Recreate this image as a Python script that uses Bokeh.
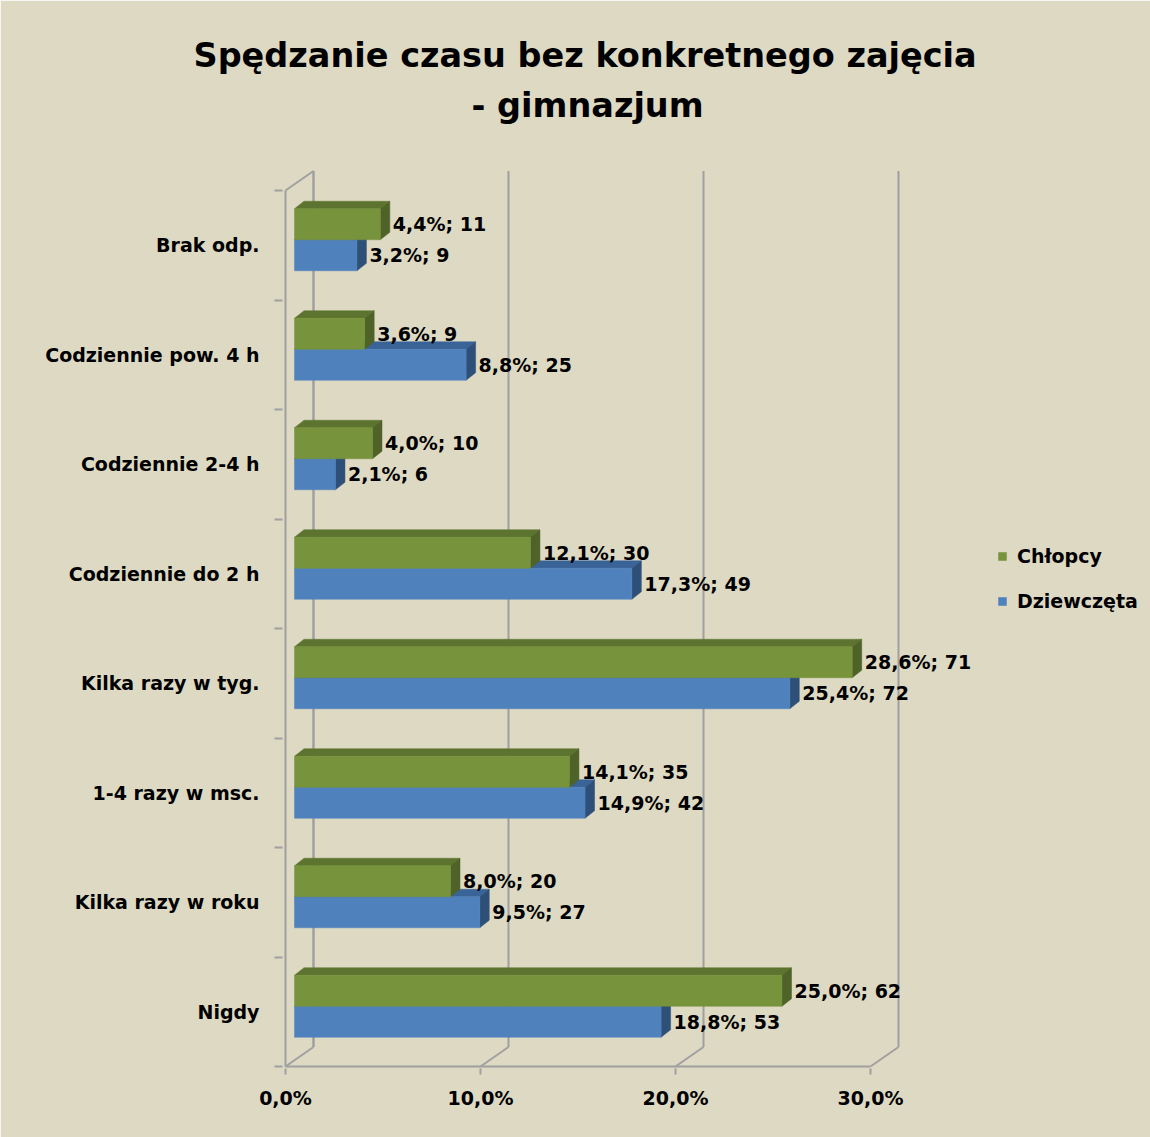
from bokeh.plotting import figure
from bokeh.models import (Range1d, LinearAxis, FixedTicker, Title, Legend,
                          LegendItem)
from bokeh.core.properties import value
from bokeh.embed import file_html
from bokeh.resources import INLINE

# ---------------- data (top to bottom as in the chart) ----------------
categories = ["Brak odp.", "Codziennie pow. 4 h", "Codziennie 2-4 h",
              "Codziennie do 2 h", "Kilka razy w tyg.", "1-4 razy w msc.",
              "Kilka razy w roku", "Nigdy"]
chlopcy_pct = [4.4, 3.6, 4.0, 12.1, 28.6, 14.1, 8.0, 25.0]
chlopcy_n = [11, 9, 10, 30, 71, 35, 20, 62]
dziewczeta_pct = [3.2, 8.8, 2.1, 17.3, 25.4, 14.9, 9.5, 18.8]
dziewczeta_n = [9, 25, 6, 49, 72, 42, 27, 53]
x_ticks = [0, 10, 20, 30]
x_tick_labels = ["0,0%", "10,0%", "20,0%", "30,0%"]
series_names = ["Chłopcy", "Dziewczęta"]
title_lines = ["Spędzanie czasu bez konkretnego zajęcia", "- gimnazjum"]

# ---------------- styling / geometry ----------------
BG = "#DDD9C3"
GRID = "#A0A0A0"
G_FRONT, G_TOP, G_SIDE = "#77933C", "#5C742F", "#4F6228"
B_FRONT, B_TOP, B_SIDE = "#4F81BD", "#3A6498", "#2E5078"
FONT = "DejaVu Sans"

W, H = 1150, 1137
PX_X, PX_Y = 19.5, 109.5          # pixels per % / per category
LEFT_BORDER, BOTTOM_BORDER, TOP_BORDER = 282, 69, 150
x_start = -3 / PX_X
x_end = x_start + (W - LEFT_BORDER) / PX_X
y_start = -2 / PX_Y
y_end = y_start + (H - BOTTOM_BORDER - TOP_BORDER) / PX_Y

X0 = 9 / PX_X            # bar front start (depth shift)
BAR_H = 31 / PX_Y
MID = 5.5 / PX_Y
DX, DY = 9.5 / PX_X, 7.5 / PX_Y          # bar depth
WX, WY = 28 / PX_X, 19.5 / PX_Y          # wall depth
N = len(categories)

p = figure(width=W, height=H, x_range=Range1d(x_start, x_end),
           y_range=Range1d(y_start, y_end), output_backend="svg",
           toolbar_location=None, title=None,
           min_border_left=LEFT_BORDER, min_border_right=0,
           min_border_top=TOP_BORDER, min_border_bottom=BOTTOM_BORDER,
           x_axis_type=None, y_axis_type=None)
p.background_fill_color = BG
p.border_fill_color = BG
p.outline_line_color = BG
p.outline_line_width = 2
p.xgrid.visible = False
p.ygrid.visible = False

# ---------------- walls / floor ----------------
xmax = x_ticks[-1]
seg_x0 = [g + WX for g in x_ticks] + [g for g in x_ticks] + [0, 0, 0, WX]
seg_y0 = [WY] * len(x_ticks) + [0] * len(x_ticks) + [0, 0, N, WY]
seg_x1 = [g + WX for g in x_ticks] + [g + WX for g in x_ticks] + [xmax, 0, WX, WX]
seg_y1 = [N + WY] * len(x_ticks) + [WY] * len(x_ticks) + [0, N, N + WY, N + WY]
p.segment(x0=seg_x0, y0=seg_y0, x1=seg_x1, y1=seg_y1,
          line_color=GRID, line_width=2)

# ---------------- bars ----------------
def faces(vals, lower):
    fl, fr, fb, ft = [], [], [], []
    txs, tys, sxs, sys_ = [], [], [], []
    for i, v in enumerate(vals):
        k = N - 1 - i
        c = k + 0.5 + MID
        b = c - BAR_H if lower else c
        t = c if lower else c + BAR_H
        l, r = X0, X0 + v
        fl.append(l); fr.append(r); fb.append(b); ft.append(t)
        txs.append([l, r, r + DX, l + DX]); tys.append([t, t, t + DY, t + DY])
        sxs.append([r, r + DX, r + DX, r]); sys_.append([b, b + DY, t + DY, t])
    return fl, fr, fb, ft, txs, tys, sxs, sys_

renderers = {}
for name, vals, lower, cf, ct, cs in [
        ("b", dziewczeta_pct, True, B_FRONT, B_TOP, B_SIDE),
        ("g", chlopcy_pct, False, G_FRONT, G_TOP, G_SIDE)]:
    fl, fr, fb, ft, txs, tys, sxs, sys_ = faces(vals, lower)
    p.patches(xs=txs, ys=tys, fill_color=ct, line_color=ct, line_width=0.5)
    p.patches(xs=sxs, ys=sys_, fill_color=cs, line_color=cs, line_width=0.5)
    renderers[name] = p.quad(left=fl, right=fr, bottom=fb, top=ft,
                             fill_color=cf, line_color=cf, line_width=0.5)

# ---------------- data labels ----------------
def fmt(v, n):
    return f"{v:.1f}".replace(".", ",") + f"%; {n}"

lx, ly, lt = [], [], []
for i in range(N):
    k = N - 1 - i
    c = k + 0.5 + MID
    lx.append(X0 + chlopcy_pct[i] + DX + 3 / PX_X); ly.append(c + BAR_H / 2)
    lt.append(fmt(chlopcy_pct[i], chlopcy_n[i]))
    lx.append(X0 + dziewczeta_pct[i] + DX + 3 / PX_X); ly.append(c - BAR_H / 2)
    lt.append(fmt(dziewczeta_pct[i], dziewczeta_n[i]))
p.text(x=lx, y=ly, text=lt, text_font=value(FONT), text_font_style="bold",
       text_font_size="19px", text_baseline="middle", text_align="left",
       text_color="black")

# ---------------- axes ----------------
xaxis = LinearAxis(ticker=FixedTicker(ticks=x_ticks),
                   major_label_overrides=dict(zip(x_ticks, x_tick_labels)))
xaxis.axis_line_color = None
xaxis.major_tick_line_color = GRID
xaxis.major_tick_line_width = 2
xaxis.major_tick_in = 0
xaxis.major_tick_out = 6
xaxis.minor_tick_line_color = None
xaxis.major_label_standoff = 12
xaxis.major_label_text_font = FONT
xaxis.major_label_text_font_style = "bold"
xaxis.major_label_text_font_size = "19px"
xaxis.major_label_text_color = "black"
p.add_layout(xaxis, "below")

y_centers = [N - 1 - i + 0.5 for i in range(N)]
yaxis = LinearAxis(ticker=FixedTicker(ticks=y_centers,
                                      minor_ticks=list(range(N + 1))),
                   major_label_overrides=dict(zip(y_centers, categories)))
yaxis.axis_line_color = None
yaxis.major_tick_line_color = None
yaxis.major_tick_in = 0
yaxis.major_tick_out = 0
yaxis.minor_tick_line_color = GRID
yaxis.minor_tick_line_width = 2
yaxis.minor_tick_in = 0
yaxis.minor_tick_out = 8
yaxis.major_label_standoff = 15
yaxis.major_label_text_font = FONT
yaxis.major_label_text_font_style = "bold"
yaxis.major_label_text_font_size = "19px"
yaxis.major_label_text_color = "black"
p.add_layout(yaxis, "left")

# ---------------- title (two lines) ----------------
p.add_layout(Title(text=title_lines[1], align="left", offset=189,
                   text_font=FONT, text_font_style="bold",
                   text_font_size="33.5px", text_color="black",
                   standoff=52), "above")
p.add_layout(Title(text=title_lines[0], align="left", offset=-89,
                   text_font=FONT, text_font_style="bold",
                   text_font_size="33.5px", text_color="black",
                   standoff=-34), "above")

# ---------------- legend ----------------
legend = Legend(items=[LegendItem(label=series_names[0], renderers=[renderers["g"]]),
                       LegendItem(label=series_names[1], renderers=[renderers["b"]])],
                location=(715, 456), orientation="vertical",
                background_fill_alpha=0, border_line_color=None,
                padding=0, margin=0, spacing=23,
                glyph_width=10, glyph_height=10, label_height=20,
                label_standoff=10, label_text_font=FONT,
                label_text_font_style="bold", label_text_font_size="19px",
                label_text_color="black", label_text_baseline="middle")
p.add_layout(legend)

open("out.html", "w").write(file_html(p, INLINE))
